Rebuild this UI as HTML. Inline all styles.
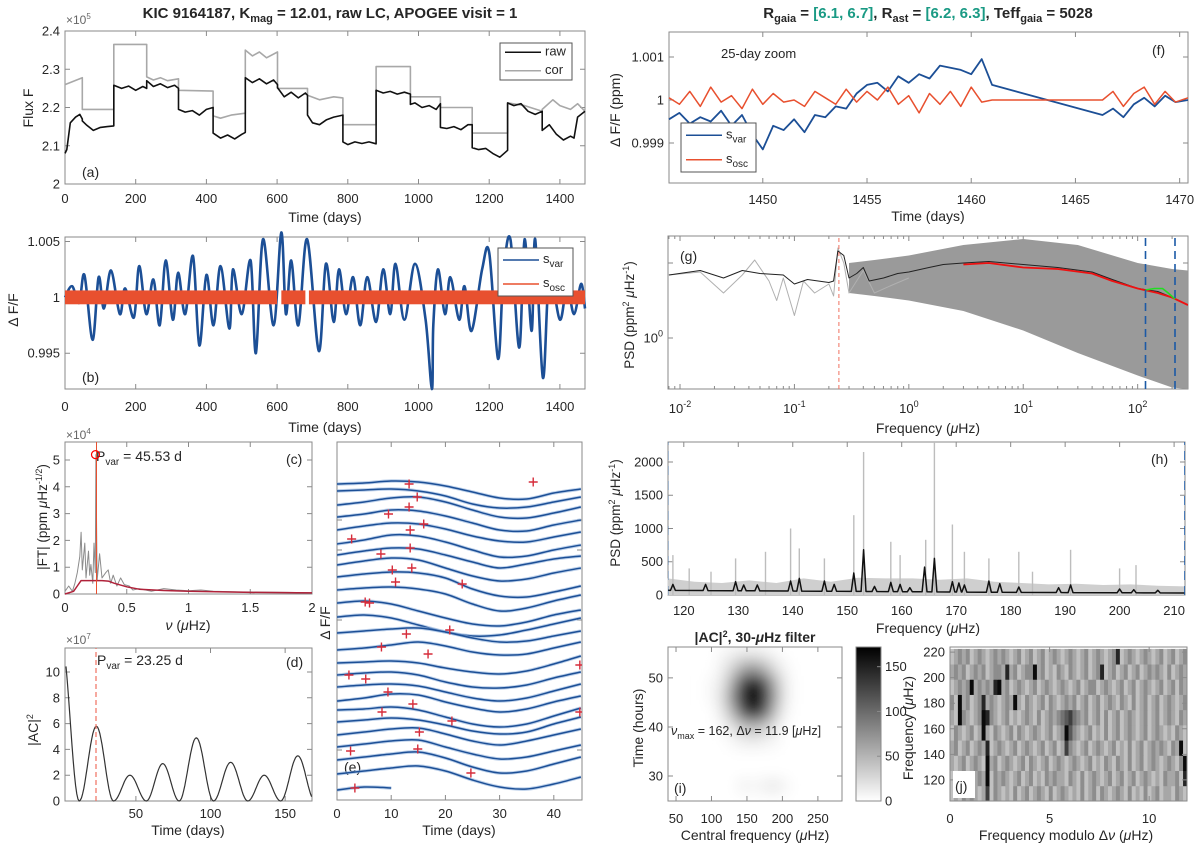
<!DOCTYPE html>
<html><head><meta charset="utf-8"><style>
html,body{margin:0;padding:0;background:#fff;}
svg{display:block;font-family:"Liberation Sans",sans-serif;fill:#262626;}
</style></head><body>
<svg id="chart" width="1200" height="852" viewBox="0 0 1200 852" xmlns="http://www.w3.org/2000/svg">
<defs>
<filter id="blur" x="-20%" y="-20%" width="140%" height="140%"><feGaussianBlur stdDeviation="7"/></filter>
<clipPath id="clipI"><rect x="668" y="647" width="174" height="154"/></clipPath>
<clipPath id="clipE"><rect x="337" y="442" width="245" height="358"/></clipPath>
<clipPath id="clipG"><rect x="668" y="236" width="520" height="153"/></clipPath>
<clipPath id="clipH"><rect x="668" y="442" width="517" height="153"/></clipPath>
<linearGradient id="cbgrad" x1="0" y1="1" x2="0" y2="0"><stop offset="0" stop-color="#fff"/><stop offset="1" stop-color="#000"/></linearGradient>
</defs>
<text x="330" y="18" text-anchor="middle" font-weight="bold" font-size="15">KIC 9164187, K<tspan font-size="11" dy="4">mag</tspan><tspan dy="-4"> = 12.01, raw LC, APOGEE visit = 1</tspan></text>
<text x="928" y="18" text-anchor="middle" font-weight="bold" font-size="15">R<tspan font-size="11" dy="4">gaia</tspan><tspan dy="-4"> =  </tspan><tspan fill="#1a9a84">[6.1, 6.7]</tspan>, R<tspan font-size="11" dy="4">ast</tspan><tspan dy="-4"> =  </tspan><tspan fill="#1a9a84">[6.2, 6.3]</tspan>, Teff<tspan font-size="11" dy="4">gaia</tspan><tspan dy="-4"> = 5028</tspan></text>

<text x="66" y="24" font-size="12" fill="#666">×10<tspan font-size="8" dy="-5">5</tspan></text>
<text transform="translate(33,108) rotate(-90)" text-anchor="middle" font-size="14">Flux F</text>
<text x="325" y="222" text-anchor="middle" font-size="14">Time (days)</text>
<text x="82" y="177" font-size="14">(a)</text>
<text transform="translate(18,310) rotate(-90)" text-anchor="middle" font-size="14">Δ F/F</text>
<text x="325" y="432" text-anchor="middle" font-size="14">Time (days)</text>
<text x="82" y="382" font-size="14">(b)</text>
<text x="66" y="439" font-size="12" fill="#666">×10<tspan font-size="8" dy="-5">4</tspan></text>
<text transform="translate(47,517) rotate(-90)" text-anchor="middle" font-size="13.5">|FT| (ppm <tspan font-style="italic">μ</tspan>Hz<tspan font-size="9" dy="-5">-1/2</tspan><tspan dy="5">)</tspan></text>
<text x="188" y="630" text-anchor="middle" font-size="14"><tspan font-style="italic">ν</tspan> (<tspan font-style="italic">μ</tspan>Hz)</text>
<text x="96" y="461" font-size="14">P<tspan font-size="10" dy="4">var</tspan><tspan dy="-4"> = 45.53 d</tspan></text>
<text x="286" y="464" font-size="14">(c)</text>
<text x="66" y="644" font-size="12" fill="#666">×10<tspan font-size="8" dy="-5">7</tspan></text>
<text transform="translate(38,730) rotate(-90)" text-anchor="middle" font-size="14">|AC|<tspan font-size="9" dy="-5">2</tspan></text>
<text x="188" y="835" text-anchor="middle" font-size="14">Time (days)</text>
<text x="97" y="665" font-size="14">P<tspan font-size="10" dy="4">var</tspan><tspan dy="-4"> = 23.25 d</tspan></text>
<text x="286" y="667" font-size="14">(d)</text>
<text transform="translate(330,623) rotate(-90)" text-anchor="middle" font-size="14">Δ F/F</text>
<text x="459" y="835" text-anchor="middle" font-size="14">Time (days)</text>
<text x="344" y="772" font-size="14">(e)</text>

<text transform="translate(620,110) rotate(-90)" text-anchor="middle" font-size="14">Δ F/F (ppm)</text>
<text x="928" y="221" text-anchor="middle" font-size="14">Time (days)</text>
<text x="721" y="58" font-size="13">25-day zoom</text>
<text x="1152" y="55" font-size="14">(f)</text>
<text transform="translate(634,315) rotate(-90)" text-anchor="middle" font-size="13.5">PSD (ppm<tspan font-size="9" dy="-5">2</tspan><tspan dy="5"> </tspan><tspan font-style="italic">μ</tspan>Hz<tspan font-size="9" dy="-5">-1</tspan><tspan dy="5">)</tspan></text>
<text x="928" y="433" text-anchor="middle" font-size="14">Frequency (<tspan font-style="italic">μ</tspan>Hz)</text>
<text x="680" y="261" font-size="14">(g)</text>
<text transform="translate(620,513) rotate(-90)" text-anchor="middle" font-size="13.5">PSD (ppm<tspan font-size="9" dy="-5">2</tspan><tspan dy="5"> </tspan><tspan font-style="italic">μ</tspan>Hz<tspan font-size="9" dy="-5">-1</tspan><tspan dy="5">)</tspan></text>
<text x="928" y="633" text-anchor="middle" font-size="14">Frequency (<tspan font-style="italic">μ</tspan>Hz)</text>
<text x="1151" y="464" font-size="14">(h)</text>
<text x="755" y="642" text-anchor="middle" font-weight="bold" font-size="14">|AC|<tspan font-size="9" dy="-5">2</tspan><tspan dy="5">, 30-</tspan><tspan font-style="italic">μ</tspan>Hz filter</text>
<text transform="translate(643,728) rotate(-90)" text-anchor="middle" font-size="14">Time (hours)</text>
<text x="755" y="840" text-anchor="middle" font-size="14">Central frequency (<tspan font-style="italic">μ</tspan>Hz)</text>
<text transform="translate(913,728) rotate(-90)" text-anchor="middle" font-size="14">Frequency (<tspan font-style="italic">μ</tspan>Hz)</text>
<text x="1066" y="840" text-anchor="middle" font-size="14">Frequency modulo  Δ<tspan font-style="italic">ν</tspan> (<tspan font-style="italic">μ</tspan>Hz)</text>
<g id="layer"></g>
</svg>
<script>
const NS='http://www.w3.org/2000/svg';
const layer=document.getElementById('layer');

// ---------- DATA ----------
const aRawT=[0,5,15,30,42,49,49,60,80,100,120,138,138,160,180,200,220,231,231,250,270,290,310,321,321,340,360,380,400,419,419,440,460,480,500,510,510,530,550,570,590,601,601,620,640,660,680,686,686,700,720,740,760,786,786,800,820,840,860,880,880,900,920,940,960,977,977,990,1010,1030,1050,1062,1062,1080,1100,1120,1140,1152,1152,1170,1190,1210,1230,1252,1252,1270,1290,1310,1330,1350,1350,1370,1390,1410,1430,1440,1450,1471];
const aRawV=[2.08,2.09,2.16,2.175,2.182,2.17,2.165,2.155,2.14,2.148,2.15,2.152,2.258,2.25,2.256,2.245,2.255,2.25,2.27,2.255,2.262,2.252,2.258,2.25,2.195,2.188,2.192,2.18,2.195,2.2,2.133,2.12,2.128,2.118,2.13,2.135,2.278,2.265,2.275,2.262,2.272,2.26,2.252,2.228,2.24,2.225,2.238,2.232,2.18,2.16,2.155,2.168,2.175,2.18,2.11,2.103,2.11,2.106,2.11,2.105,2.245,2.238,2.242,2.235,2.24,2.235,2.208,2.212,2.2,2.205,2.195,2.21,2.148,2.145,2.15,2.142,2.155,2.155,2.095,2.09,2.093,2.08,2.07,2.088,2.212,2.205,2.21,2.19,2.182,2.19,2.14,2.155,2.13,2.115,2.125,2.12,2.175,2.19];
const aCorT=[0,49,49,138,138,231,231,250,270,290,321,321,419,419,440,470,510,510,530,550,570,601,601,686,686,720,760,786,786,880,880,977,977,1062,1062,1152,1152,1252,1252,1300,1350,1350,1380,1400,1430,1450,1471];
const aCorV=[2.26,2.278,2.195,2.195,2.365,2.365,2.28,2.272,2.278,2.27,2.275,2.245,2.243,2.178,2.172,2.18,2.185,2.35,2.335,2.345,2.33,2.345,2.25,2.25,2.232,2.22,2.228,2.225,2.155,2.155,2.307,2.307,2.228,2.228,2.2,2.2,2.133,2.133,2.212,2.205,2.19,2.195,2.22,2.205,2.195,2.21,2.19];
const bVarT=[0,20,40,55,78,95,110,130,155,170,195,210,230,250,268,285,305,320,340,362,380,400,420,440,465,475,500,525,540,560,590,612,625,640,660,685,718,738,760,775,795,815,835,855,880,900,920,935,960,990,1020,1038,1042,1055,1075,1090,1115,1130,1150,1180,1200,1225,1240,1260,1285,1300,1320,1330,1352,1370,1400,1420,1440,1460,1471];
const bVarV=[1.0,1.001,0.9995,1.002,0.9962,1.0018,0.999,1.0024,0.9985,1.0008,0.9982,1.0028,0.9985,1.0016,0.9975,1.0033,0.998,1.0022,0.9985,1.0037,0.9957,1.002,0.9975,1.0028,0.9972,1.0025,0.9985,1.0033,0.995,1.0052,0.9975,1.0058,0.9985,1.0033,0.9975,1.0052,0.9952,1.003,0.9978,1.0025,0.9985,1.0018,0.9975,1.0018,0.9978,1.0025,0.9985,1.003,0.998,1.003,0.998,0.9918,0.9975,1.0025,0.9985,1.0018,0.998,1.001,0.997,1.0025,1.004,0.9945,1.002,1.0052,0.9955,1.0052,0.997,1.0052,0.9928,1.002,0.998,1.001,0.9985,1.0012,0.999];
const bOscStart=[0,612,690];
const bOscEnd=[600,680,1471];
const bOscAmp=0.00062;
const cNu=[0,0.03,0.06,0.08,0.1,0.12,0.13,0.14,0.16,0.17,0.19,0.2,0.21,0.225,0.235,0.245,0.25,0.26,0.28,0.3,0.33,0.35,0.37,0.39,0.42,0.45,0.48,0.52,0.55,0.6,0.7,0.8,0.9,1,1.1,1.2,1.4,1.6,1.8,2];
const cFT=[0.1,0.3,0.1,0.4,0.8,1.4,2.3,0.9,1.9,0.6,1.6,0.7,1.1,0.4,1.9,0.8,5.2,0.5,1.5,0.6,0.8,0.9,0.4,0.7,0.3,0.6,0.35,0.3,0.15,0.2,0.1,0.2,0.15,0.12,0.15,0.1,0.08,0.07,0.06,0.05];
const cSmoothNu=[0,0.07,0.1,0.13,0.2,0.3,0.35,0.4,0.5,0.6,0.8,1.0,1.5,2];
const cSmooth=[0,0.1,0.3,0.5,0.5,0.5,0.48,0.4,0.27,0.18,0.13,0.1,0.06,0.04];
const cPeakNu=0.255, cPeakVal=5.2;
const dZeros=[-12,12,35,57,79,102,125,147,170];
const dHeights=[12.5,5.8,2.0,2.9,4.9,3.0,2.0,3.5];
const dPvar=23.25;
const eTimes=[0,5,10,15,20,25,30,35,40,45];
const eTraces=[
[31.6,31.7,31.9,31.8,31.4,30.8,30.2,30.1,30.7,31.1],
[30.9,31.0,31.1,30.9,30.4,29.6,29.2,29.3,29.8,30.3],
[29.5,29.8,30.2,30.3,29.8,29.0,28.3,28.2,28.7,29.3],
[28.3,28.6,29.0,28.9,28.4,27.7,27.0,26.9,27.5,28.0],
[27.0,27.4,27.7,27.6,27.1,26.4,25.9,25.8,26.3,26.8],
[25.6,26.0,26.5,26.4,25.8,25.0,24.3,24.4,25.0,25.5],
[24.5,24.9,25.2,25.1,24.5,23.8,23.2,23.6,24.1,24.4],
[23.5,23.9,24.2,24.0,23.2,22.4,21.9,22.1,22.7,23.2],
[22.3,22.6,22.8,22.7,22.2,21.1,20.4,20.3,20.8,21.4],
[21.0,21.2,21.3,21.1,20.6,19.6,18.9,19.2,19.9,20.5],
[19.7,19.9,19.6,18.9,18.2,17.6,17.4,17.8,18.5,19.0],
[18.3,18.5,18.2,17.5,16.8,16.4,16.5,17.0,17.6,18.2],
[16.7,16.9,17.1,17.2,16.8,16.2,15.8,15.9,16.4,16.9],
[15.0,15.2,15.5,15.8,15.4,14.8,14.5,14.6,15.2,15.8],
[13.7,13.8,13.9,13.7,13.2,12.8,12.6,12.9,13.6,14.4],
[12.5,12.7,12.8,12.5,11.8,11.3,11.2,11.5,12.2,12.8],
[11.3,11.5,11.6,11.4,10.8,10.2,9.9,10.2,10.9,11.6],
[9.9,10.2,10.6,10.5,9.8,9.2,8.8,9.1,9.8,10.4],
[9.0,9.1,9.3,9.0,8.3,7.6,7.3,7.6,8.4,9.2],
[7.8,8.0,8.2,8.0,7.5,6.9,6.6,6.8,7.6,8.3],
[6.5,6.8,7.1,7.2,6.6,5.9,5.5,5.9,6.5,7.1],
[5.3,5.6,5.9,6.0,5.3,4.6,4.1,4.3,4.9,5.5],
[4.0,4.3,4.6,4.8,4.2,3.3,2.7,2.9,3.6,4.3],
[2.6,2.9,3.2,3.4,2.9,2.0,1.3,1.1,1.6,2.3],
[1.0,1.3,1.2,null,null,null,null,null,null,null]];
const eCrossT=[13.3,36.2,14.8,13.3,9.5,16,13.5,2.7,13.5,8.1,10.2,13.8,10.8,23.1,5.2,6,20.8,12.8,8.2,16.8,44.8,2.2,5.3,9.4,14,8.3,44.8,21.2,15.2,2.5,14.9,24.7,3.3];
const eCrossV=[31.6,31.8,30.3,29.3,28.6,27.6,27.0,26.1,25.2,24.6,23.0,23.2,21.8,21.6,19.8,19.7,17.0,16.6,15.3,14.6,13.5,12.5,12.1,10.8,9.6,8.8,8.8,7.9,6.8,4.9,5.1,2.7,1.2];
const fT=[1445.5,1446,1446.5,1447,1447.5,1448,1448.5,1449,1449.5,1450,1450.5,1451,1451.5,1452,1452.5,1453,1453.5,1454,1454.5,1455,1455.5,1456,1456.5,1457,1457.5,1458,1458.5,1459,1459.5,1460,1460.5,1461,1466.3,1466.8,1467.3,1467.8,1468.3,1468.8,1469.3,1469.8,1470.4];
const fVar=[0.99955,0.9997,0.99945,0.9996,0.9995,0.99975,0.9994,0.99965,0.9992,0.99885,0.9994,0.9993,0.99955,0.99925,0.99965,0.9996,0.99985,0.9998,1.00015,1.00035,1.0004,1.0002,1.00055,1.0004,1.0006,1.0005,1.0008,1.00075,1.0007,1.0006,1.00095,1.00035,0.99965,0.9998,0.9996,0.9999,1.00005,0.99985,1.0001,0.99995,1.0];
const fOsc=[1.00005,0.9999,1.0002,0.99985,1.0003,0.99995,1.0001,0.9998,1.00025,0.9999,1.00015,0.99995,1.0,0.99985,1.0002,1.00005,0.9999,1.00025,0.99995,1.0002,1.0,1.0003,0.9999,1.0001,0.9997,1.00015,0.9999,1.0002,0.99985,1.0003,0.99995,1.0,1.0,1.0002,0.99985,1.00015,1.0003,0.9999,1.0002,0.99995,1.00005];
const gLowF=[0.008,0.015,0.024,0.035,0.045,0.06,0.07,0.08,0.1,0.12,0.15,0.2,0.22,0.24,0.27,0.3,0.4,0.5,0.7,1];
const gLowP=[0.42,0.44,0.3,0.42,0.52,0.38,0.25,0.4,0.15,0.38,0.3,0.36,0.28,0.6,0.5,0.3,0.45,0.3,0.35,0.4];
const gSmF=[0.008,0.015,0.024,0.035,0.05,0.08,0.1,0.13,0.2,0.22,0.24,0.27,0.3,0.35,0.4,0.45,0.6,0.8,1,1.5,2,3,5,10,20,40,60,100,150,200,275];
const gSmP=[0.42,0.45,0.4,0.45,0.43,0.42,0.36,0.39,0.37,0.38,0.58,0.55,0.4,0.43,0.47,0.38,0.4,0.43,0.44,0.47,0.49,0.5,0.51,0.49,0.47,0.44,0.39,0.33,0.31,0.27,0.22];
const gBandF=[0.3,0.5,1,3,10,30,100,200,275];
const gBandHi=[0.5,0.52,0.55,0.62,0.66,0.62,0.5,0.46,0.45];
const gBandLo=[0.3,0.28,0.25,0.18,0.05,-0.1,-0.25,-0.33,-0.34];
const gFitF=[3,5,10,20,40,60,100,150,200,275];
const gFitP=[0.49,0.5,0.47,0.46,0.43,0.38,0.33,0.3,0.27,0.22];
const gGaussF=[117,140,165,185,212];
const gGaussP=[0.32,0.33,0.33,0.3,0.26];
const gRedLine=0.245, gBlueLines=[117,212];
const hBandF=[117,122,127,132,137,142,147,152,157,162,167,172,177,182,187,192,197,202,207,212];
const hBandHi=[250,200,180,220,180,250,200,260,250,250,230,250,200,180,160,170,150,160,140,130];
const hSpikeF=[118,121,125,129.5,135,139.6,141.2,145.8,151.2,153,158,159.7,164.4,166,169.3,171.5,176,181.5,184,191,200,203];
const hSpikeP=[600,400,350,550,650,1000,700,550,1200,2150,800,600,830,2300,1060,650,550,650,350,680,400,450];
const hPeakF=[118,124,129.5,131,133.5,139.6,141.2,145.8,147.6,151.2,153,155,158,159.7,161.5,164.2,166,169.3,170.5,171.5,176,178,181.5,188.8,191,200,202.6,207];
const hPeakP=[160,160,200,150,150,210,250,210,160,330,680,130,190,160,110,420,550,200,180,150,210,170,120,110,150,90,80,70];
const hBaseF=[117,150,180,212];
const hBaseP=[70,55,40,30];
const iFreqs=[100,115,130,145,160,175,190,205,220];
const iTimes=[55,52,49,46,43,40,37,28];
const iPower=[
[0,5,10,15,15,10,5,0,0],
[0,10,30,60,70,50,20,5,0],
[5,15,60,130,160,120,50,10,0],
[5,20,80,165,172,150,60,10,0],
[0,15,50,120,150,110,40,5,0],
[0,5,20,40,50,35,15,0,0],
[0,0,5,10,12,8,5,0,0],
[0,0,0,10,5,10,15,5,0]];
const jRowStart=[103.5,115.4,127.3,139.2,151.1,163.0,174.9,186.8,198.7,210.6];
const jRows=[
"232434323724323242342343242343232423424323432423242342332432",
"242342343924343234234232434332432423432342342342343232433428",
"323423432934234323424323423432343234232432432423423432343249",
"342342343823432342343234234237432342343234232423423434324392",
"243234239324323424323432342349643234232423423432342343232432",
"329432349843234232343242343456754342342423423432342342343243",
"429342348343234393243234243234342342342343243242342342343234",
"234349343438934234323423432343234234423432342342343234234243",
"343423434234438342344934232432432342348234234234234343242343",
"234342343234343234234234234323432342343234823432343234234234"];
const jDnu=11.9;

// ---------- HELPERS ----------
function mk(tag,parent){const e=document.createElementNS(NS,tag);(parent||layer).appendChild(e);return e;}
function at(e,o){for(const k in o)e.setAttribute(k,o[k]);return e;}
function lin(d0,d1,r0,r1){return v=>r0+(v-d0)/(d1-d0)*(r1-r0);}
function lgs(d0,d1,r0,r1){const a=Math.log10(d0),b=Math.log10(d1);return v=>r0+(Math.log10(v)-a)/(b-a)*(r1-r0);}
function panel(l,t,r,b,xs,ys){return {l,t,r,b,x:xs,y:ys};}
function frame(P,name){
  const r=mk('rect');
  at(r,{x:P.l,y:P.t,width:P.r-P.l,height:P.b-P.t,fill:'none',stroke:'#8a8a8a','stroke-width':1});
  
  
}
function xTicks(P,vals,labels,ly,name,len){
  len=len||5;
  vals.forEach((v,i)=>{
    const x=P.x(v);
    const tk=mk('path');
    at(tk,{d:`M${x},${P.b}v${-len}M${x},${P.t}v${len}`,stroke:'#8a8a8a','stroke-width':1});
    
    
    if(labels&&labels[i]!==''){
      const t=mk('text');
      at(t,{x:x,y:ly,'text-anchor':'middle','font-size':13});
      t.innerHTML=labels[i];
      
      
    }
  });
}
function yTicks(P,vals,labels,name,lx,anchor,len){
  len=len||5;
  vals.forEach((v,i)=>{
    const y=P.y(v);
    const tk=mk('path');
    at(tk,{d:`M${P.l},${y}h${len}M${P.r},${y}h${-len}`,stroke:'#8a8a8a','stroke-width':1});
    
    
    if(labels&&labels[i]!==''){
      const t=mk('text');
      at(t,{x:lx===undefined?P.l-5:lx,y:y+4.5,'text-anchor':anchor||'end','font-size':13});
      t.innerHTML=labels[i];
      
      
    }
  });
}
function line(P,xs,ys,style,name,clip,smooth){
  const pts=[];let d='';
  const flush=()=>{
    if(!pts.length)return;
    d+='M'+pts[0][0].toFixed(1)+','+pts[0][1].toFixed(1);
    for(let i=1;i<pts.length;i++){
      if(smooth){
        const p0=pts[i-2]||pts[i-1],p1=pts[i-1],p2=pts[i],p3=pts[i+1]||p2;
        const c1=[p1[0]+(p2[0]-p0[0])/6,p1[1]+(p2[1]-p0[1])/6],c2=[p2[0]-(p3[0]-p1[0])/6,p2[1]-(p3[1]-p1[1])/6];
        d+=`C${c1[0].toFixed(1)},${c1[1].toFixed(1)} ${c2[0].toFixed(1)},${c2[1].toFixed(1)} ${p2[0].toFixed(1)},${p2[1].toFixed(1)}`;
      } else d+='L'+pts[i][0].toFixed(1)+','+pts[i][1].toFixed(1);
    }
    pts.length=0;
  };
  for(let i=0;i<xs.length;i++){
    if(ys[i]===null||ys[i]===undefined){flush();continue;}
    pts.push([P.x(xs[i]),P.y(ys[i])]);
  }
  flush();
  const p=mk('path');
  at(p,Object.assign({d:d,fill:'none','stroke-linejoin':'round'},style));
  if(clip)p.setAttribute('clip-path','url(#'+clip+')');
  
  
  return p;
}
const BLUE='#1c4f96', RED='#e8502f';

// (a)
const A=panel(65,31,585,184,lin(0,1471,65,585),lin(2.0,2.4,184,31));
frame(A,'a-axes-box');
xTicks(A,[0,200,400,600,800,1000,1200,1400],['0','200','400','600','800','1000','1200','1400'],203,'a-x');
yTicks(A,[2,2.1,2.2,2.3,2.4],['2','2.1','2.2','2.3','2.4'],'a-y');
line(A,aCorT,aCorV,{stroke:'#a8a8a8','stroke-width':1.6},'a-cor-line');
line(A,aRawT,aRawV,{stroke:'#111','stroke-width':1.6},'a-raw-line');

// (b)
const B=panel(65,237,585,389,lin(0,1471,65,585),lin(0.9918,1.0054,389,237));
frame(B,'b-axes-box');
xTicks(B,[0,200,400,600,800,1000,1200,1400],['0','200','400','600','800','1000','1200','1400'],411,'b-x');
yTicks(B,[0.995,1,1.005],['0.995','1','1.005'],'b-y');
line(B,bVarT,bVarV,{stroke:BLUE,'stroke-width':2.6},'b-svar-line',null,true);
bOscStart.forEach((s,i)=>{
  const r=mk('rect');
  at(r,{x:B.x(s),y:B.y(1+bOscAmp),width:B.x(bOscEnd[i])-B.x(s),height:B.y(1-bOscAmp)-B.y(1+bOscAmp),fill:RED});
  
  
});

// (c)
const C=panel(65,442,312,594,lin(0,2,65,312),lin(0,5.67,594,442));
frame(C,'c-axes-box');
xTicks(C,[0,0.5,1,1.5,2],['0','0.5','1','1.5','2'],612,'c-x');
yTicks(C,[0,1,2,3,4,5],['0','1','2','3','4','5'],'c-y');
line(C,cNu,cFT,{stroke:'#8c8c8c','stroke-width':1},'c-ft-line');
line(C,cSmoothNu,cSmooth,{stroke:'#b0223a','stroke-width':1.5},'c-smooth-line');
line(C,[cPeakNu,cPeakNu],[0,5.67],{stroke:RED,'stroke-width':1},'c-peak-marker-line');
const cc=mk('circle');
at(cc,{cx:C.x(cPeakNu-0.008),cy:C.y(cPeakVal),r:4,fill:'none',stroke:'red','stroke-width':1.2});



// (d)
const D=panel(65,648,312,801,lin(2.5,168,65,312),lin(0,11.86,801,648));
frame(D,'d-axes-box');
xTicks(D,[50,100,150],['50','100','150'],818,'d-x');
yTicks(D,[0,2,4,6,8,10],['0','2','4','6','8','10'],'d-y');
{
  const ts=[],vs=[];
  for(let k=0;k<dHeights.length;k++){
    const z0=dZeros[k],z1=dZeros[k+1];
    for(let j=0;j<=30;j++){
      const t=z0+(z1-z0)*j/30;
      if(t<2.5||t>168)continue;
      ts.push(t);vs.push(dHeights[k]*Math.pow(Math.sin(Math.PI*(t-z0)/(z1-z0)),2));
    }
  }
  line(D,ts,vs,{stroke:'#333','stroke-width':1.2},'d-ac-line');
}
line(D,[dPvar,dPvar],[0,11.86],{stroke:'#f07060','stroke-width':1.2,'stroke-dasharray':'5,3'},'d-pvar-line');

// (e)
const E=panel(337,442,582,800,lin(0,45.2,337,582),lin(0,35.8,800,442));
frame(E,'e-axes-box');
xTicks(E,[0,10,20,30,40],['0','10','20','30','40'],818,'e-x');
yTicks(E,[5,18,25,28],null,'e-y');
eTraces.forEach((tr,k)=>{
  line(E,eTimes,tr,{stroke:'#8fb0dc','stroke-width':3.4,opacity:0.6},'e-trace-halo-'+k,'clipE',true);
  line(E,eTimes,tr,{stroke:BLUE,'stroke-width':1.5},'e-trace-'+k,'clipE',true);
});
eCrossT.forEach((t,i)=>{
  const x=E.x(t),y=E.y(eCrossV[i]);
  const p=mk('path');
  at(p,{d:`M${x-4.5},${y}h9M${x},${y-4.5}v9`,stroke:'#d62c3a','stroke-width':1.4,'clip-path':'url(#clipE)'});
  
  
});

// (f)
const F=panel(669,32,1188,183,lin(1445.5,1470.4,669,1188),lin(0.99807,1.00158,183,32));
frame(F,'f-axes-box');
xTicks(F,[1450,1455,1460,1465,1470],['1450','1455','1460','1465','1470'],204,'f-x');
yTicks(F,[0.999,1,1.001],['0.999','1','1.001'],'f-y');
line(F,fT,fVar,{stroke:BLUE,'stroke-width':1.8},'f-svar-line');
{
  const t2=fT.slice(0,32).concat([1461.1,1466.2]).concat(fT.slice(32));
  const v2=fOsc.slice(0,32).concat([1,1]).concat(fOsc.slice(32));
  line(F,t2,v2,{stroke:RED,'stroke-width':1.5},'f-sosc-line');
}

// (g)
const G=panel(668,236,1188,389,lgs(Math.pow(10,-2.105),Math.pow(10,2.44),668,1188),lin(-0.34,0.68,389,236));
frame(G,'g-axes-box');
{
  const minors=[];
  for(let e=-3;e<=2;e++)for(let m=2;m<=9;m++){const v=m*Math.pow(10,e);if(v>0.0079&&v<275)minors.push(v);}
  xTicks(G,minors,null,0,'g-x-minor',3);
}
xTicks(G,[0.01,0.1,1,10,100],['10<tspan font-size="9" dy="-6">-2</tspan>','10<tspan font-size="9" dy="-6">-1</tspan>','10<tspan font-size="9" dy="-6">0</tspan>','10<tspan font-size="9" dy="-6">1</tspan>','10<tspan font-size="9" dy="-6">2</tspan>'],413,'g-x');
yTicks(G,[0,0.5],['10<tspan font-size="9" dy="-6">0</tspan>',''],'g-y');
{
  let d='';
  gBandF.forEach((f,i)=>{d+=(i?'L':'M')+G.x(f).toFixed(1)+','+G.y(gBandHi[i]).toFixed(1);});
  for(let i=gBandF.length-1;i>=0;i--)d+='L'+G.x(gBandF[i]).toFixed(1)+','+G.y(gBandLo[i]).toFixed(1);
  const p=mk('path');at(p,{d:d+'Z',fill:'#9a9a9a','clip-path':'url(#clipG)'});
  
  
}
line(G,gLowF,gLowP,{stroke:'#b0b0b0','stroke-width':1},'g-psd-raw-line','clipG');
line(G,gSmF,gSmP,{stroke:'#222','stroke-width':1},'g-psd-smooth-line','clipG');
line(G,gFitF,gFitP,{stroke:'#ee1111','stroke-width':1.8},'g-background-fit','clipG');
line(G,gGaussF,gGaussP,{stroke:'#22dd22','stroke-width':1.6},'g-gaussian-fit','clipG');
line(G,[gRedLine,gRedLine],[-0.34,0.68],{stroke:'#f07060','stroke-width':1,'stroke-dasharray':'4,3'},'g-pvar-line');
gBlueLines.forEach((f,i)=>{line(G,[f,f],[-0.34,0.68],{stroke:'#1c5aa6','stroke-width':1.6,'stroke-dasharray':'8,5'},'g-numax-range-line-'+i);});

// (h)
const H=panel(668,442,1185,595,lin(117.1,212.0,668,1185),lin(0,2300,595,442));
frame(H,'h-axes-box');
xTicks(H,[120,130,140,150,160,170,180,190,200,210],['120','130','140','150','160','170','180','190','200','210'],615,'h-x');
yTicks(H,[0,500,1000,1500,2000],['0','500','1000','1500','2000'],'h-y');
{
  let d='M'+H.x(hBandF[0])+','+H.y(0);
  hBandF.forEach((f,i)=>{d+='L'+H.x(f).toFixed(1)+','+H.y(hBandHi[i]).toFixed(1);});
  d+='L'+H.x(hBandF[hBandF.length-1])+','+H.y(0)+'Z';
  const p=mk('path');at(p,{d:d,fill:'#cfcfcf'});
  
  
}
hSpikeF.forEach((f,i)=>{line(H,[f,f],[0,hSpikeP[i]],{stroke:'#bdbdbd','stroke-width':1.4},'h-psd-spike','clipH');});
{
  const base=f=>{for(let i=1;i<hBaseF.length;i++){if(f<=hBaseF[i]){const r=(f-hBaseF[i-1])/(hBaseF[i]-hBaseF[i-1]);return hBaseP[i-1]+r*(hBaseP[i]-hBaseP[i-1]);}}return hBaseP[hBaseP.length-1];};
  const xs=[117.1],ys=[base(117.1)];
  hPeakF.forEach((f,i)=>{xs.push(f-0.45,f,f+0.45);ys.push(base(f-0.45),hPeakP[i],base(f+0.45));});
  xs.push(212);ys.push(base(212));
  line(H,xs,ys,{stroke:'#111','stroke-width':1.5},'h-psd-smooth-line','clipH');
}
gBlueLines.forEach((f,i)=>{line(H,[f,f],[0,2300],{stroke:'#1c5aa6','stroke-width':1.6,'stroke-dasharray':'9,6'},'h-numax-range-line-'+i,'clipH');});

// (i)
const I=panel(668,647,842,801,lin(38.7,284,668,842),lin(24.9,56.3,801,647));
{
  const g=mk('g');at(g,{'clip-path':'url(#clipI)'});
  
  
  const g2=mk('g',g);at(g2,{filter:'url(#blur)'});
  iTimes.forEach((t,r)=>{iFreqs.forEach((f,c)=>{
    const v=iPower[r][c];const gv=Math.round(255*(1-v/172));
    const rc=mk('rect',g2);
    at(rc,{x:I.x(f-7.5),y:I.y(t+1.5),width:I.x(f+7.5)-I.x(f-7.5)+0.5,height:I.y(t-1.5)-I.y(t+1.5)+0.5,fill:`rgb(${gv},${gv},${gv})`});
    
    
  });});
}
frame(I,'i-axes-box');
xTicks(I,[50,100,150,200,250],['50','100','150','200','250'],823,'i-x');
yTicks(I,[30,40,50],['30','40','50'],'i-y');
{
  const t=mk('text');at(t,{x:671,y:735,'font-size':12.5});
  t.innerHTML='<tspan font-style="italic">ν</tspan><tspan font-size="9" dy="4">max</tspan><tspan dy="-4"> = 162, Δ</tspan><tspan font-style="italic">ν</tspan> = 11.9 [<tspan font-style="italic">μ</tspan>Hz]';
  
  
  const l=mk('text');at(l,{x:674,y:793,'font-size':14});l.textContent='(i)';
  
  
}
const CB=panel(856,647,881,801,lin(0,1,856,881),lin(0,172,801,647));
{
  const r=mk('rect');at(r,{x:856,y:647,width:25,height:154,fill:'url(#cbgrad)',stroke:'#8a8a8a'});
  
  
}
[0,50,100,150].forEach(v=>{
  const y=CB.y(v);
  const tk=mk('path');at(tk,{d:`M881,${y}h-4`,stroke:'#8a8a8a'});
  
  
  const t=mk('text');at(t,{x:885,y:y+4.5,'font-size':13});t.textContent=String(v);
  
  
});

// (j)
const J=panel(950,647,1187,801,lin(0,jDnu,950,1187),lin(103.5,224,801,647));
jRows.forEach((row,r)=>{
  const n=row.length;const y0=jRowStart[r],y1=y0+jDnu;
  for(let c=0;c<n;c++){
    const dk=+row[c];const gv=Math.max(0,Math.round(245-dk*26));
    const rc=mk('rect');
    at(rc,{x:J.x(c*jDnu/n),y:J.y(Math.min(y1,224)),width:J.x((c+1)*jDnu/n)-J.x(c*jDnu/n)+0.4,height:J.y(y0)-J.y(Math.min(y1,224))+0.4,fill:`rgb(${gv},${gv},${gv})`});
    
    
  }
});
frame(J,'j-axes-box');
xTicks(J,[0,5,10],['0','5','10'],823,'j-x');
yTicks(J,[120,140,160,180,200,220],['120','140','160','180','200','220'],'j-y');
{
  const b=mk('rect');at(b,{x:953,y:771,width:22,height:27,fill:'#fff'});
  
  
  const l=mk('text');at(l,{x:955,y:791,'font-size':14});l.textContent='(j)';
  
  
}

// legends
function legend(x,y,w,h,items,name){
  const g=mk('g');
  
  
  const r=mk('rect',g);at(r,{x:x,y:y,width:w,height:h,fill:'#fff',stroke:'#555','stroke-width':1});
  items.forEach((it,i)=>{
    const yy=y+h*(i+0.5)/items.length;
    const l=mk('path',g);at(l,{d:`M${x+5},${yy}h36`,stroke:it.c,'stroke-width':1.6});
    
    
    const t=mk('text',g);at(t,{x:x+45,y:yy+3,'font-size':13});t.innerHTML=it.t;
    
    
  });
}
legend(500,43,72,37,[{c:'#111',t:'raw'},{c:'#a8a8a8',t:'cor'}],'a-legend');
const SV='s<tspan font-size="10" dy="4">var</tspan>', SO='s<tspan font-size="10" dy="4">osc</tspan>';
legend(498,248,75,48,[{c:BLUE,t:SV},{c:RED,t:SO}],'b-legend');
legend(681,123,75,49,[{c:BLUE,t:SV},{c:RED,t:SO}],'f-legend');
</script>
</body></html>
